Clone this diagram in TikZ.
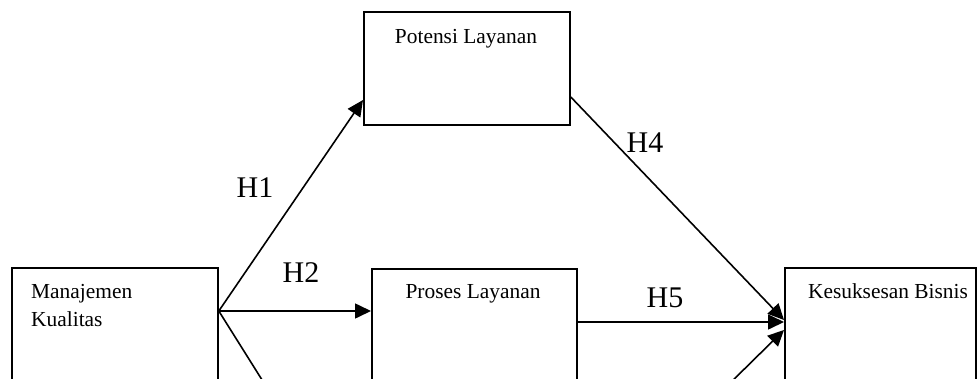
\documentclass[tikz,border=0pt]{standalone}
\usepackage{fontspec}
\setmainfont{Liberation Serif}
\usetikzlibrary{arrows.meta}
\begin{document}
\begin{tikzpicture}[x=1pt,y=-1pt,
  box/.style={draw,line width=1.8pt,minimum width=#1,anchor=north west,inner sep=0pt,minimum height=150pt},
  boxtext/.style={font=\fontsize{21.4}{28}\selectfont,anchor=base,inner sep=0pt},
  hlab/.style={font=\fontsize{30}{34}\selectfont,anchor=base,inner sep=0pt},
  conn/.style={line width=1.6pt},
  arr/.style={conn,-{Triangle[length=16pt,width=15pt]}}]
\useasboundingbox (0,0) rectangle (980,378);
\clip (0,0) rectangle (980,378);
% boxes
\node[box=206pt,minimum height=113pt] (pl) at (363,11) {};
\node[box=206pt] (mk) at (11,267) {};
\node[box=205pt] (ps) at (371,268) {};
\node[box=191pt] (kb) at (784,267) {};
% texts
\node[boxtext] (tpl) at (466,43) {Potensi Layanan};
\node[boxtext,anchor=base west,align=left] (tmk) at (31,326) {Manajemen\\Kualitas};
\node[boxtext] (tps) at (473,298) {Proses Layanan};
\node[boxtext] (tkb) at (888,298) {Kesuksesan Bisnis};
% connectors
\coordinate (o) at (mk.east |- 0,311);
\draw[arr] (o) -- (pl.west |- 0,100);
\draw[arr] (o) -- (ps.west |- 0,311);
\coordinate (h3end) at (269,391);
\draw[conn] (o) -- (h3end);
\draw[arr] (pl.east |- 0,97) -- (kb.west |- 0,320);
\draw[arr] (ps.east |- 0,322) -- (kb.west |- 0,322);
\coordinate (bstart) at (722,391);
\draw[arr] (bstart) -- (kb.west |- 0,330);
% labels
\node[hlab] (h1) at (255,197) {H1};
\node[hlab] (h2) at (301,282) {H2};
\node[hlab] (h4) at (645,152) {H4};
\node[hlab] (h5) at (665,307) {H5};
\end{tikzpicture}
\end{document}
